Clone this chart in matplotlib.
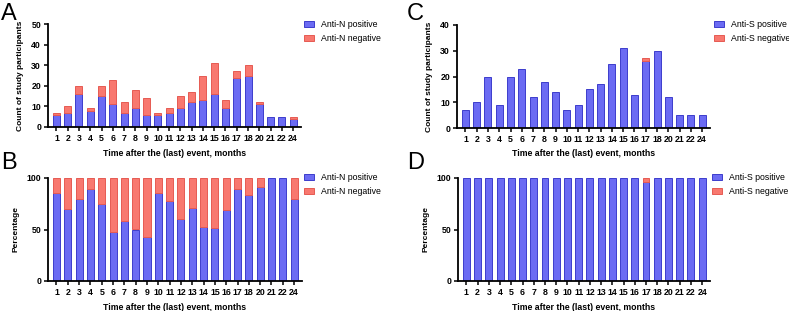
import matplotlib
matplotlib.use("Agg")
import matplotlib.pyplot as plt
import numpy as np

plt.rcParams['font.family'] = ['Liberation Sans', 'DejaVu Sans']

# Data
months = ['1', '2', '3', '4', '5', '6', '7', '8', '9', '10', '11', '12',
          '13', '14', '15', '16', '17', '18', '20', '21', '22', '24']
n_pos = [6, 7, 16, 8, 15, 11, 7, 9, 6, 6, 7, 9, 12, 13, 16, 9, 24, 25, 11, 5, 5, 4]
n_neg = [1, 3, 4, 1, 5, 12, 5, 9, 8, 1, 2, 6, 5, 12, 15, 4, 3, 5, 1, 0, 0, 1]
s_pos = [7, 10, 20, 9, 20, 23, 12, 18, 14, 7, 9, 15, 17, 25, 31, 13, 26, 30, 12, 5, 5, 5]
s_neg = [0, 0, 0, 0, 0, 0, 0, 0, 0, 0, 0, 0, 0, 0, 0, 0, 1, 0, 0, 0, 0, 0]

BLUE = '#6b6bf3'
BLUE_EDGE = '#3d3dcc'
RED = '#f8786f'
RED_EDGE = '#e65a52'

XLABEL = 'Time after the (last) event, months'

fig = plt.figure(figsize=(7.89, 3.11), dpi=100)
W, H = 789, 311


def add_axes(x0, y0, x1, y1):
    return fig.add_axes([x0 / W, 1 - y1 / H, (x1 - x0) / W, (y1 - y0) / H])


def stacked(ax, pos, neg, ylim, yticks, ylabel, labels, leg_xy, percent=False):
    pos = np.array(pos, dtype=float)
    neg = np.array(neg, dtype=float)
    if percent:
        tot = pos + neg
        pos, neg = pos / tot * 100, neg / tot * 100
    x = np.arange(len(months))
    w = 0.62
    ax.bar(x, pos, w, color=BLUE, edgecolor=BLUE_EDGE, linewidth=0.7,
           label=labels[0])
    m = neg > 0
    ax.bar(x[m], neg[m], w, bottom=pos[m], color=RED, edgecolor=RED_EDGE,
           linewidth=0.7, label=labels[1])
    ax.set_xlim(-0.75, len(months) - 0.3)
    ax.set_ylim(*ylim)
    ax.set_yticks(yticks)
    ax.set_xticks(x)
    ax.set_xticklabels(months)
    for s in ['top', 'right']:
        ax.spines[s].set_visible(False)
    for s in ['left', 'bottom']:
        ax.spines[s].set_linewidth(1.3)
    ax.tick_params(axis='both', width=1.1, length=3, labelsize=6.3, pad=2)
    for t in ax.get_xticklabels() + ax.get_yticklabels():
        t.set_fontweight('bold')
    ax.set_xlabel(XLABEL, fontsize=6.3, fontweight='bold', labelpad=4)
    ax.set_ylabel(ylabel, fontsize=6, fontweight='bold', labelpad=5)
    ax.legend(loc='upper left', bbox_to_anchor=(leg_xy[0] / W, 1 - leg_xy[1] / H),
              bbox_transform=fig.transFigure, frameon=False, borderpad=0,
              borderaxespad=0, fontsize=6.3, handlelength=1.15,
              handleheight=0.6, handletextpad=0.8, labelspacing=0.6)


axA = add_axes(48, 24, 301, 127)
axB = add_axes(48, 178, 302, 281)
axC = add_axes(457, 25, 710, 128)
axD = add_axes(458, 178, 710, 281)

stacked(axA, n_pos, n_neg, (0, 50), [0, 10, 20, 30, 40, 50],
        'Count of study participants', ['Anti-N positive', 'Anti-N negative'],
        (304, 20))
stacked(axB, n_pos, n_neg, (0, 100), [0, 50, 100], 'Percentage',
        ['Anti-N positive', 'Anti-N negative'], (304, 173), percent=True)
stacked(axC, s_pos, s_neg, (0, 40), [0, 10, 20, 30, 40],
        'Count of study participants', ['Anti-S positive', 'Anti-S negative'],
        (714, 20))
stacked(axD, s_pos, s_neg, (0, 100), [0, 50, 100], 'Percentage',
        ['Anti-S positive', 'Anti-S negative'], (712, 173), percent=True)

for letter, (px, py) in zip('ABCD', [(1, 3), (1, 152), (407, 3), (407, 152)]):
    fig.text(px / W, 1 - py / H, letter, fontsize=17, va='top', ha='left')

fig.savefig('out.png', dpi=100, facecolor='white')
